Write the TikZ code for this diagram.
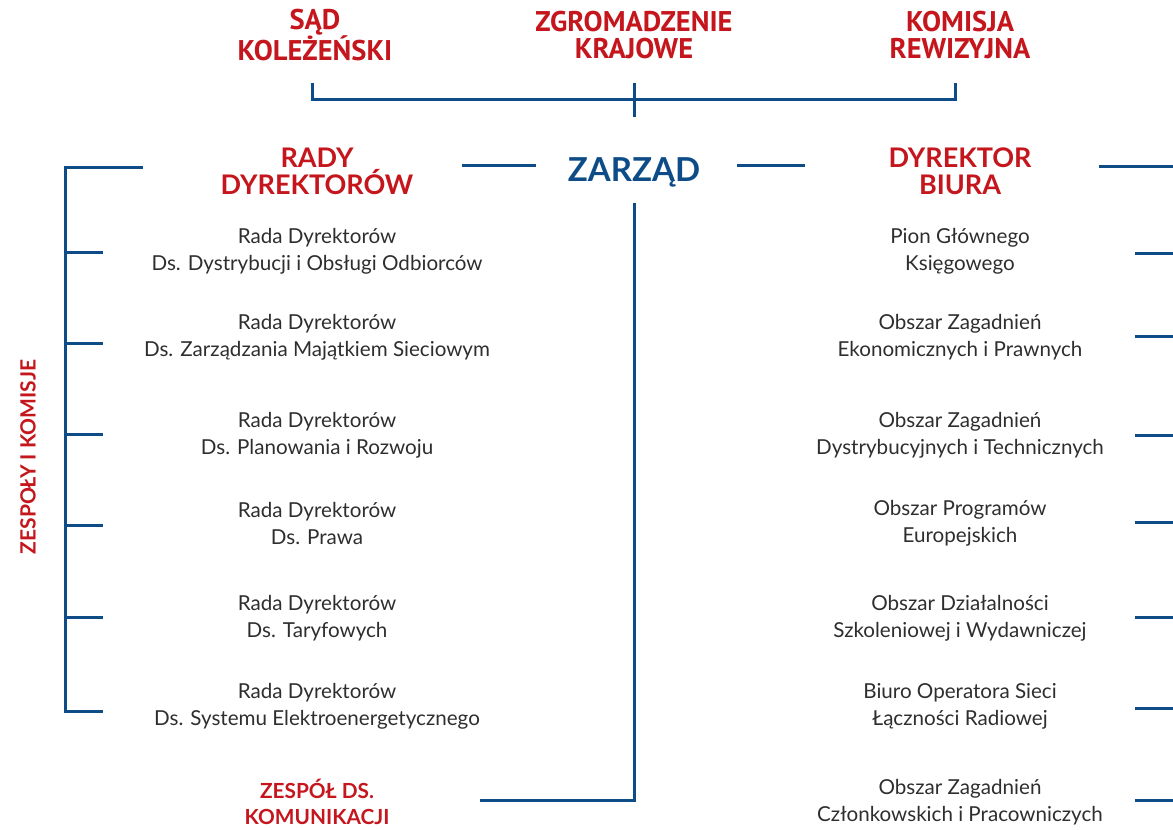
\documentclass[tikz,border=0pt]{standalone}
\usepackage{fontspec}
\setmainfont{Lato}
\newfontfamily\hdfont{PT Sans}
\definecolor{lnblue}{HTML}{0E4C87}
\definecolor{tred}{HTML}{C4161C}
\definecolor{tgray}{HTML}{2E2E2E}
\begin{document}
\begin{tikzpicture}[x=1pt,y=-1pt,
  conn/.style={draw=lnblue,line width=3pt},
  toph/.style={text=tred,font=\hdfont\bfseries\fontsize{28.5}{27.5}\selectfont,align=center,inner sep=0pt},
  headr/.style={text=tred,font=\bfseries\fontsize{27}{27}\selectfont,align=center,inner sep=0pt},
  unit/.style={text=tgray,font=\fontsize{20.6}{27}\selectfont,align=center,inner sep=0pt},
  smallr/.style={text=tred,font=\bfseries\fontsize{20.8}{26}\selectfont,align=center,inner sep=0pt}]
\useasboundingbox (0,0) rectangle (1173,830);
% top bodies
\node[toph] (sad) at (315,35) {SĄD\\KOLEŻEŃSKI};
\node[toph] (zgr) at (634,35) {ZGROMADZENIE\\KRAJOWE};
\node[toph] (kom) at (960,35) {KOMISJA\\REWIZYJNA};
\coordinate (bl) at (312,83);
\coordinate (br) at (955,83);
\coordinate (bc) at (634,83);
\coordinate (bcb) at (634,117);
\draw[conn] (bl) |- (634,99) -| (br);
\draw[conn] (bc) -- (bcb);
% board
\node[text=lnblue,font=\bfseries\fontsize{33}{33}\selectfont,inner sep=0pt] (zarz) at (634,172) {ZARZĄD};
\node[headr] (rady) at (317,171) {RADY\\DYREKTORÓW};
\node[headr] (dyr) at (960,171) {DYREKTOR\\BIURA};
\coordinate (zl1) at (462,165); \coordinate (zl2) at (536,165);
\coordinate (zr1) at (737,165); \coordinate (zr2) at (805,165);
\draw[conn] (zl1) -- (zl2);
\draw[conn] (zr1) -- (zr2);
\coordinate (dr1) at (1099,166); \coordinate (dr2) at (1174,166);
\draw[conn] (dr1) -- (dr2);
% left bracket
\coordinate (lt) at (143,167);
\coordinate (lb) at (103,711);
\draw[conn] (lt) -| (65,711) -- (lb);
\foreach \y in {252,343,434,525,617}{\draw[conn] (65,\y) -- (103,\y);}
\node[text=tred,font=\bfseries\fontsize{21}{21}\selectfont,rotate=90,inner sep=0pt] (zesp) at (28,457) {ZESPOŁY I KOMISJE};
% left units
\node[unit] (l1) at (317,251.5) {Rada Dyrektorów\\Ds. Dystrybucji i Obsługi Odbiorców};
\node[unit] (l2) at (317,337.5) {Rada Dyrektorów\\Ds. Zarządzania Majątkiem Sieciowym};
\node[unit] (l3) at (317,435.5) {Rada Dyrektorów\\Ds. Planowania i Rozwoju};
\node[unit] (l4) at (317,523.5) {Rada Dyrektorów\\Ds. Prawa};
\node[unit] (l5) at (317,618.5) {Rada Dyrektorów\\Ds. Taryfowych};
\node[unit] (l6) at (317,706.5) {Rada Dyrektorów\\Ds. Systemu Elektroenergetycznego};
% communication
\node[smallr] (komu) at (317,802) {ZESPÓŁ DS.\\KOMUNIKACJI};
\coordinate (zdown) at (634,203);
\coordinate (kend) at (480,800);
\draw[conn] (zdown) |- (kend);
% right units
\node[unit] (r1) at (960,251.5) {Pion Głównego\\Księgowego};
\node[unit] (r2) at (960,337.5) {Obszar Zagadnień\\Ekonomicznych i Prawnych};
\node[unit] (r3) at (960,435.5) {Obszar Zagadnień\\Dystrybucyjnych i Technicznych};
\node[unit] (r4) at (960,523.5) {Obszar Programów\\Europejskich};
\node[unit] (r5) at (960,618.5) {Obszar Działalności\\Szkoleniowej i Wydawniczej};
\node[unit] (r6) at (960,706.5) {Biuro Operatora Sieci\\Łączności Radiowej};
\node[unit] (r7) at (960,802) {Obszar Zagadnień\\Członkowskich i Pracowniczych};
\foreach \y in {253,336,435,522,617,708,800}{\draw[conn] (1135,\y) -- (1174,\y);}
\end{tikzpicture}
\end{document}
